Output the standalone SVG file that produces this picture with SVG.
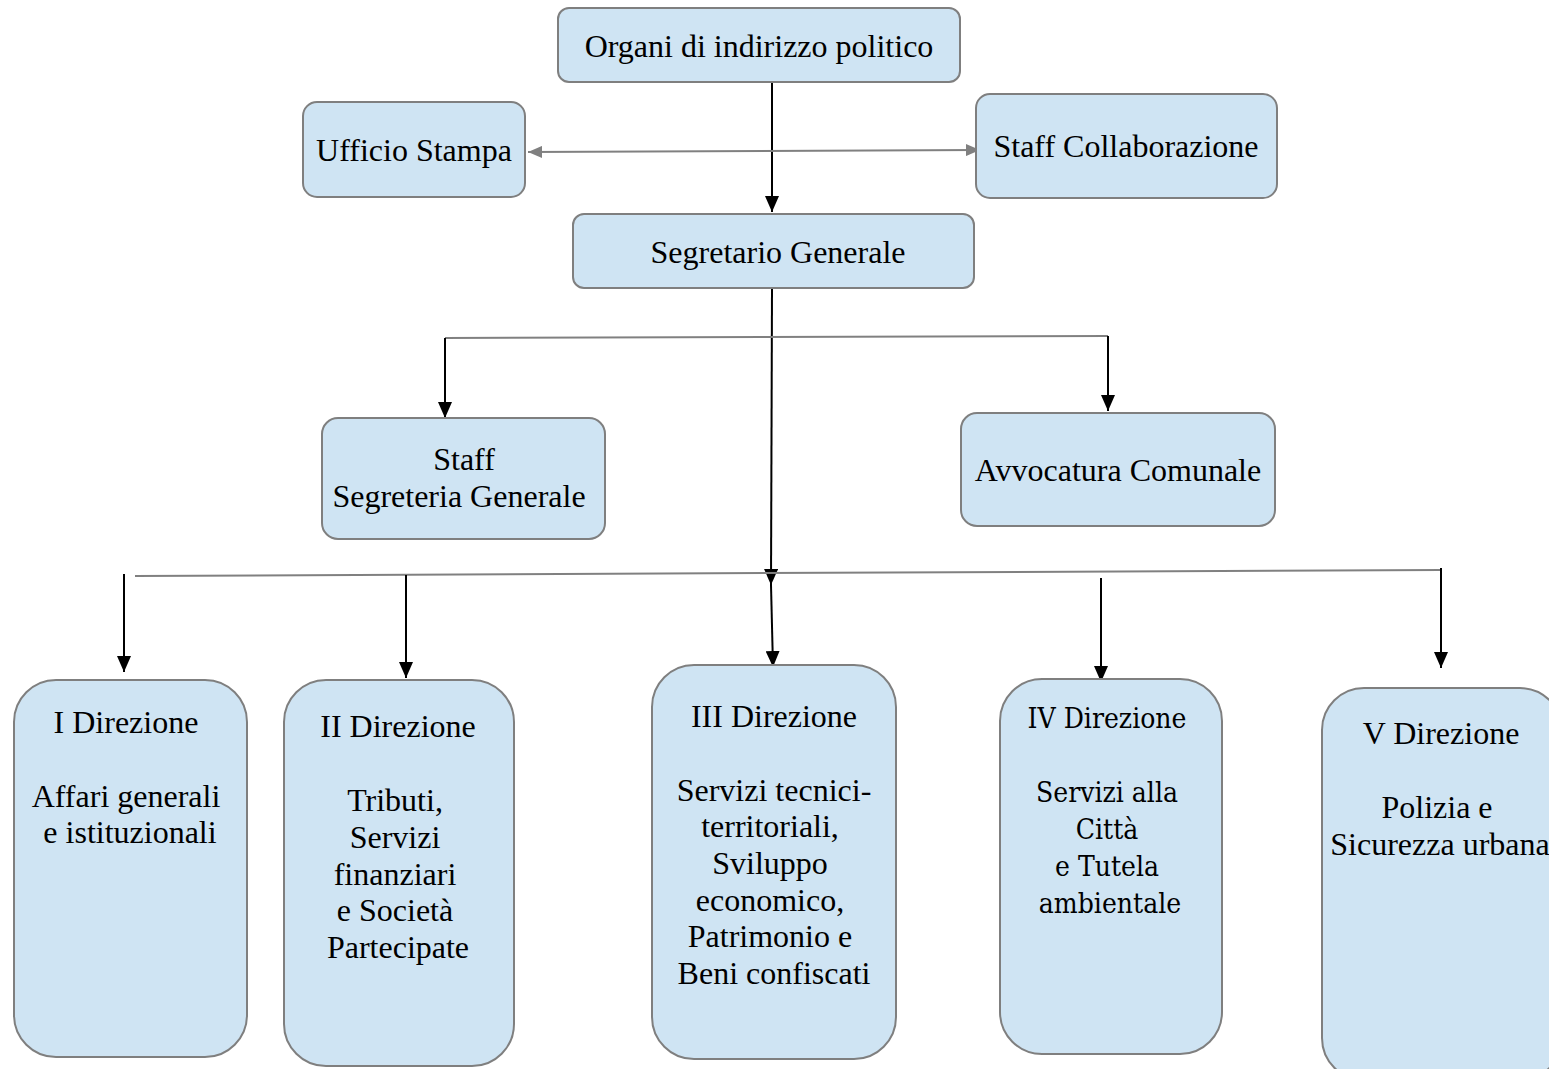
<svg xmlns="http://www.w3.org/2000/svg" width="1549" height="1069" viewBox="0 0 1549 1069">
<defs>
<style>
.box{fill:#cfe4f3;stroke:#7f7f7f;stroke-width:2}
.t{font-family:"Liberation Serif","Times New Roman",serif;font-size:32px;fill:#000;text-anchor:middle}
.t2{font-family:"DejaVu Serif Condensed","DejaVu Serif",serif;font-stretch:condensed;font-size:28px;fill:#000;text-anchor:middle}
.blk{stroke:#000;stroke-width:2;fill:none}
.gry{stroke:#808080;stroke-width:2;fill:none}
</style>
<marker id="ab" viewBox="0 0 16 14" refX="16" refY="7" markerWidth="16" markerHeight="14" markerUnits="userSpaceOnUse" orient="auto">
<path d="M0,0 L16,7 L0,14 z" fill="#000"/>
</marker>
<marker id="ag" viewBox="0 0 14 12" refX="14" refY="6" markerWidth="14" markerHeight="12" markerUnits="userSpaceOnUse" orient="auto-start-reverse">
<path d="M0,0 L14,6 L0,12 z" fill="#808080"/>
</marker>
</defs>
<rect width="1549" height="1069" fill="#fff"/>
<g id="connectors">
<line class="blk" x1="772" y1="82" x2="772" y2="212" marker-end="url(#ab)"/>
<line class="gry" x1="528" y1="152" x2="980" y2="150" marker-start="url(#ag)" marker-end="url(#ag)"/>
<line class="blk" x1="772" y1="288" x2="771" y2="585" marker-end="url(#ab)"/>
<line class="blk" x1="771" y1="585" x2="773" y2="667" marker-end="url(#ab)"/>
<polyline class="gry" points="445,338 1108,336"/>
<line class="blk" x1="445" y1="338" x2="445" y2="418" marker-end="url(#ab)"/>
<line class="blk" x1="1108" y1="336" x2="1108" y2="411" marker-end="url(#ab)"/>
<line class="gry" x1="135" y1="576" x2="1441" y2="570"/>
<line class="blk" x1="124" y1="574" x2="124" y2="672" marker-end="url(#ab)"/>
<line class="blk" x1="406" y1="575" x2="406" y2="678" marker-end="url(#ab)"/>
<line class="blk" x1="1101" y1="578" x2="1101" y2="682" marker-end="url(#ab)"/>
<line class="blk" x1="1441" y1="568" x2="1441" y2="668" marker-end="url(#ab)"/>
</g>
<g id="organi">
<rect class="box" x="558" y="8" width="402" height="74" rx="11"/>
<text class="t" x="759" y="57">Organi di indirizzo politico</text>
</g>
<g id="ufficio-stampa">
<rect class="box" x="303" y="102" width="222" height="95" rx="14"/>
<text class="t" x="414" y="161">Ufficio Stampa</text>
</g>
<g id="staff-collaborazione">
<rect class="box" x="976" y="94" width="301" height="104" rx="14"/>
<text class="t" x="1126" y="157">Staff Collaborazione</text>
</g>
<g id="segretario">
<rect class="box" x="573" y="214" width="401" height="74" rx="11"/>
<text class="t" x="778" y="263">Segretario Generale</text>
</g>
<g id="staff-segreteria">
<rect class="box" x="322" y="418" width="283" height="121" rx="16"/>
<text class="t" x="464" y="470">Staff</text>
<text class="t" x="459" y="507">Segreteria Generale</text>
</g>
<g id="avvocatura">
<rect class="box" x="961" y="413" width="314" height="113" rx="16"/>
<text class="t" x="1118" y="481">Avvocatura Comunale</text>
</g>
<g id="dir1">
<rect class="box" x="14" y="680" width="233" height="377" rx="42"/>
<text class="t" x="126" y="733">I Direzione</text>
<text class="t" x="126" y="807">Affari generali</text>
<text class="t" x="130" y="843">e istituzionali</text>
</g>
<g id="dir2">
<rect class="box" x="284" y="680" width="230" height="386" rx="42"/>
<text class="t" x="398" y="737">II Direzione</text>
<text class="t" x="395" y="811">Tributi,</text>
<text class="t" x="395" y="848">Servizi</text>
<text class="t" x="395" y="885">finanziari</text>
<text class="t" x="395" y="921">e Società</text>
<text class="t" x="398" y="958">Partecipate</text>
</g>
<g id="dir3">
<rect class="box" x="652" y="665" width="244" height="394" rx="42"/>
<text class="t" x="774" y="727">III Direzione</text>
<text class="t" x="774" y="801">Servizi tecnici-</text>
<text class="t" x="770" y="837">territoriali,</text>
<text class="t" x="770" y="874">Sviluppo</text>
<text class="t" x="770" y="911">economico,</text>
<text class="t" x="770" y="947">Patrimonio e</text>
<text class="t" x="774" y="984">Beni confiscati</text>
</g>
<g id="dir4">
<rect class="box" x="1000" y="679" width="222" height="375" rx="42"/>
<text class="t2" x="1107" y="728">IV Direzione</text>
<text class="t2" x="1107" y="802">Servizi alla</text>
<text class="t2" x="1107" y="839">Città</text>
<text class="t2" x="1107" y="876">e Tutela</text>
<text class="t2" x="1110" y="913">ambientale</text>
</g>
<g id="dir5">
<rect class="box" x="1322" y="688" width="240" height="392" rx="42"/>
<text class="t" x="1441" y="744">V Direzione</text>
<text class="t" x="1437" y="818">Polizia e</text>
<text class="t" x="1440" y="855">Sicurezza urbana</text>
</g>
</svg>
